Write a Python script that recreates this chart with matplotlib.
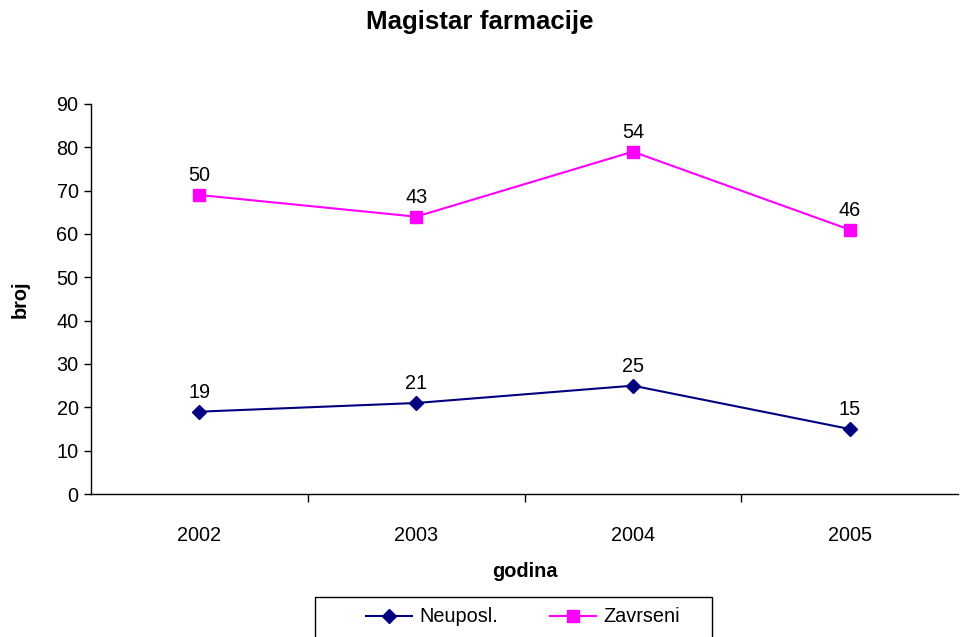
import numpy as np
import matplotlib.pyplot as plt
from matplotlib.patches import Rectangle

plt.rcParams['font.family'] = ['Liberation Sans', 'DejaVu Sans']

godine = ['2002', '2003', '2004', '2005']
neuposl = [19, 21, 25, 15]
zavrseni = [50, 43, 54, 46]

# excel stacked line: second series sits on top of the first
x = np.arange(len(godine))
zav_stacked = np.array(neuposl) + np.array(zavrseni)

fig = plt.figure(figsize=(9.6, 6.37), dpi=100)
ax = fig.add_axes([91/960, 1-494/637, 867/960, 390/637])

ax.plot(x, neuposl, color='#000080', marker='D', markersize=7, lw=1.5, label='Neuposl.')
ax.plot(x, zav_stacked, color='#FF00FF', marker='s', markersize=9, lw=1.5, label='Zavrseni')

fs = 14.3
for xi, yi, v in zip(x, neuposl, neuposl):
    ax.annotate(str(v), (xi, yi), xytext=(0, 7), textcoords='offset points',
                ha='center', va='bottom', fontsize=fs)
for xi, yi, v in zip(x, zav_stacked, zavrseni):
    ax.annotate(str(v), (xi, yi), xytext=(0, 7), textcoords='offset points',
                ha='center', va='bottom', fontsize=fs)

ax.set_xlim(-0.5, 3.5)
ax.set_ylim(0, 90)
ax.set_yticks(range(0, 91, 10))
ax.set_xticks(x)
ax.set_xticklabels(godine)
ax.set_xticks([0.5, 1.5, 2.5], minor=True)
ax.tick_params(axis='x', which='major', length=0, pad=23, labelsize=fs)
ax.tick_params(axis='x', which='minor', length=6, width=1, direction='out')
ax.tick_params(axis='y', length=5, width=1, labelsize=fs, pad=4)

for s in ['top', 'right']:
    ax.spines[s].set_visible(False)
for s in ['left', 'bottom']:
    ax.spines[s].set_linewidth(1)

ax.set_xlabel('godina', fontweight='bold', fontsize=fs, labelpad=12)
ax.set_ylabel('broj', fontweight='bold', fontsize=fs, labelpad=19)

fig.suptitle('Magistar farmacije', fontweight='bold', fontsize=18.6, y=1-22/637, va='center')

# legend box runs off the bottom of the image, like the original
fig.patches.append(Rectangle((315/960, -0.05), 397/960, 1-597/637+0.05,
                             transform=fig.transFigure, fill=False,
                             edgecolor='black', lw=1))
leg = fig.legend(loc='center', bbox_to_anchor=(523/960, 1-617/637),
                 ncol=2, fontsize=fs, frameon=False,
                 handlelength=2.3, handletextpad=0.4, borderpad=0,
                 borderaxespad=0, columnspacing=2.6)

fig.savefig('out.png', dpi=100)
